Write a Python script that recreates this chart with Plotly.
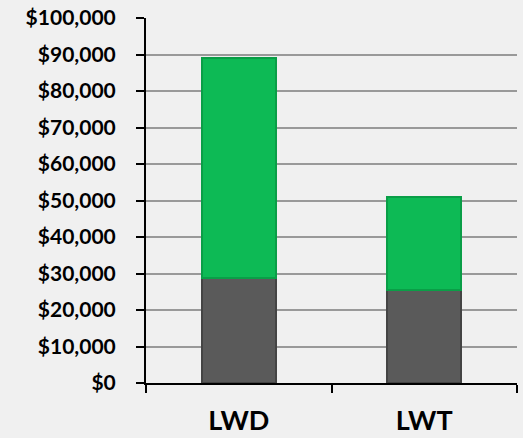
import plotly.graph_objects as go

categories = ["LWD", "LWT"]
base_values = [28700, 25500]
upper_values = [60300, 25400]
tick_values = [0, 10000, 20000, 30000, 40000, 50000, 60000, 70000, 80000, 90000, 100000]
tick_labels = ["$0", "$10,000", "$20,000", "$30,000", "$40,000", "$50,000",
               "$60,000", "$70,000", "$80,000", "$90,000", "$100,000"]

fig = go.Figure()
fig.add_trace(go.Bar(
    x=categories, y=base_values, name="Base",
    marker=dict(color="#5a5a5a", line=dict(color="#444444", width=2)),
    width=0.4,
))
fig.add_trace(go.Bar(
    x=categories, y=upper_values, name="Upper",
    marker=dict(color="#0dba55", line=dict(color="#0a9e47", width=2)),
    width=0.4,
))

fig.update_layout(
    barmode="stack",
    width=523, height=438,
    margin=dict(l=146, r=6, t=18, b=55),
    paper_bgcolor="#f0f0f0",
    plot_bgcolor="#f0f0f0",
    showlegend=False,
    font=dict(family="Lato", color="#000000"),
)
fig.update_yaxes(
    range=[0, 100000],
    tickvals=tick_values, ticktext=tick_labels,
    showgrid=True, gridcolor="#999999", gridwidth=1.5,
    showline=True, linecolor="#000000", linewidth=2,
    ticks="outside", ticklen=8, tickcolor="#000000", tickwidth=2,
    ticklabelstandoff=16,
    tickfont=dict(size=21, family="Lato", weight="bold"),
    zeroline=False,
    automargin=False,
)
fig.update_xaxes(
    showline=True, linecolor="#000000", linewidth=2,
    ticks="outside", ticklen=8, tickcolor="#000000", tickwidth=2,
    tickson="boundaries",
    tickfont=dict(size=27, family="Lato", weight="bold"),
    ticklabelstandoff=13,
    automargin=False,
)

fig.write_html("out.html")
